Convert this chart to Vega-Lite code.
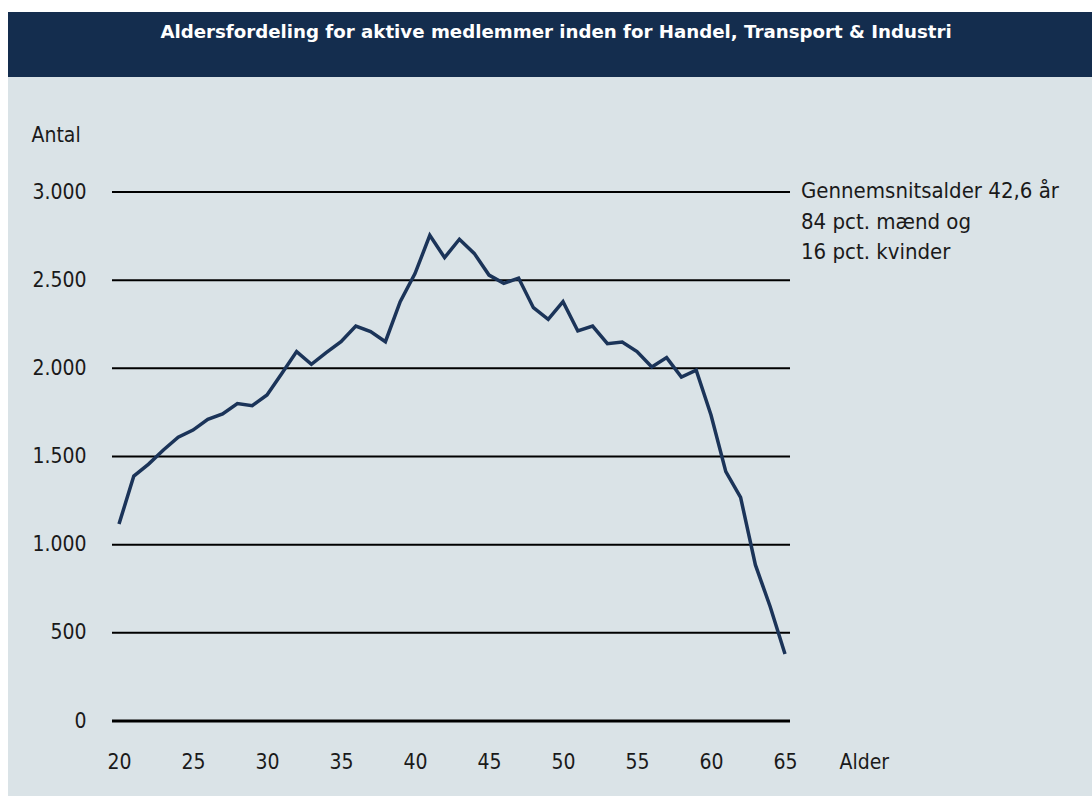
{
  "$schema": "https://vega.github.io/schema/vega-lite/v6.json",
  "background": "white",
  "padding": {"left": 8, "top": 12, "right": 0, "bottom": 0},
  "autosize": {"type": "pad"},
  "spacing": 0,
  "config": {"view": {"stroke": null}, "concat": {"spacing": 0}},
  "vconcat": [
    {
      "width": 1084,
      "height": 65,
      "view": {"fill": "#142d4e", "stroke": null},
      "data": {"values": [{"t": "Aldersfordeling for aktive medlemmer inden for Handel, Transport & Industri"}]},
      "mark": {"type": "text", "font": "DejaVu Sans", "fontWeight": "bold", "fontSize": 18.2, "color": "white", "baseline": "middle", "dy": -12, "dx": 6},
      "encoding": {"text": {"field": "t"}}
    },
    {
      "width": 1084,
      "height": 719,
      "view": {"fill": "#dae3e7", "stroke": null},
      "layer": [
        {
          "data": {"values": [{"v": 0}, {"v": 500}, {"v": 1000}, {"v": 1500}, {"v": 2000}, {"v": 2500}, {"v": 3000}]},
          "mark": {"type": "rule", "color": "#000000"},
          "encoding": {
            "y": {"field": "v", "type": "quantitative", "scale": {"domain": [-425.3, 3652.2], "zero": false, "nice": false},
              "axis": {"values": [0, 500, 1000, 1500, 2000, 2500, 3000], "orient": "left", "offset": -78, "domain": false, "ticks": false, "tickSize": 0, "labelPadding": 0, "grid": false,
                "labelExpr": "replace(format(datum.value, ','), ',', '.')", "labelFont": "DejaVu Sans Condensed, DejaVu Sans", "labelFontSize": 21, "labelColor": "#1a1a1a", "labelBaseline": "middle",
                "title": "Antal", "titleAngle": 0, "titleAlign": "left", "titleBaseline": "middle", "titleX": -55, "titleY": 58, "titleFont": "DejaVu Sans Condensed, DejaVu Sans", "titleFontSize": 21, "titleFontWeight": "normal", "titleColor": "#1a1a1a"}},
            "x": {"datum": 19.527, "type": "quantitative", "scale": {"domain": [12.5, 85.743], "zero": false, "nice": false},
              "axis": {"values": [20, 25, 30, 35, 40, 45, 50, 55, 60, 65], "orient": "bottom", "offset": -34, "domain": false, "ticks": false, "tickSize": 0, "labelPadding": 0, "grid": false,
                "labelFont": "DejaVu Sans Condensed, DejaVu Sans", "labelFontSize": 21, "labelColor": "#1a1a1a", "labelBaseline": "middle", "labelFlush": false, "labelOverlap": false,
                "title": "Alder", "titleAlign": "left", "titleBaseline": "middle", "titleX": 831, "titleY": 0, "titleFont": "DejaVu Sans Condensed, DejaVu Sans", "titleFontSize": 21, "titleFontWeight": "normal", "titleColor": "#1a1a1a"}},
            "x2": {"datum": 65.338},
            "strokeWidth": {"condition": {"test": "datum.v === 0", "value": 3}, "value": 2}
          }
        },
        {
          "data": {"values": [
            {"alder": 20, "antal": 1117}, {"alder": 21, "antal": 1389}, {"alder": 22, "antal": 1457}, {"alder": 23, "antal": 1537},
            {"alder": 24, "antal": 1609}, {"alder": 25, "antal": 1650}, {"alder": 26, "antal": 1711}, {"alder": 27, "antal": 1741},
            {"alder": 28, "antal": 1800}, {"alder": 29, "antal": 1788}, {"alder": 30, "antal": 1849}, {"alder": 31, "antal": 1971},
            {"alder": 32, "antal": 2095}, {"alder": 33, "antal": 2023}, {"alder": 34, "antal": 2089}, {"alder": 35, "antal": 2151},
            {"alder": 36, "antal": 2240}, {"alder": 37, "antal": 2208}, {"alder": 38, "antal": 2151}, {"alder": 39, "antal": 2378},
            {"alder": 40, "antal": 2537}, {"alder": 41, "antal": 2754}, {"alder": 42, "antal": 2628}, {"alder": 43, "antal": 2732},
            {"alder": 44, "antal": 2652}, {"alder": 45, "antal": 2529}, {"alder": 46, "antal": 2482}, {"alder": 47, "antal": 2512},
            {"alder": 48, "antal": 2344}, {"alder": 49, "antal": 2278}, {"alder": 50, "antal": 2378}, {"alder": 51, "antal": 2212},
            {"alder": 52, "antal": 2240}, {"alder": 53, "antal": 2140}, {"alder": 54, "antal": 2149}, {"alder": 55, "antal": 2095},
            {"alder": 56, "antal": 2008}, {"alder": 57, "antal": 2061}, {"alder": 58, "antal": 1951}, {"alder": 59, "antal": 1990},
            {"alder": 60, "antal": 1735}, {"alder": 61, "antal": 1414}, {"alder": 62, "antal": 1268}, {"alder": 63, "antal": 885},
            {"alder": 64, "antal": 648}, {"alder": 65, "antal": 380}
          ]},
          "mark": {"type": "line", "color": "#1b3459", "strokeWidth": 3.5, "strokeCap": "butt", "strokeJoin": "miter"},
          "encoding": {
            "x": {"field": "alder", "type": "quantitative"},
            "y": {"field": "antal", "type": "quantitative"}
          }
        },
        {
          "data": {"values": [{"note": ["Gennemsnitsalder 42,6 år", "84 pct. mænd og", "16 pct. kvinder"]}]},
          "mark": {"type": "text", "font": "DejaVu Sans Condensed, DejaVu Sans", "fontSize": 22, "color": "#1a1a1a", "align": "left", "baseline": "top", "lineHeight": 30.5, "dy": -11},
          "encoding": {
            "x": {"datum": 66.08, "type": "quantitative"},
            "y": {"datum": 3000, "type": "quantitative"},
            "text": {"field": "note"}
          }
        }
      ]
    }
  ]
}
